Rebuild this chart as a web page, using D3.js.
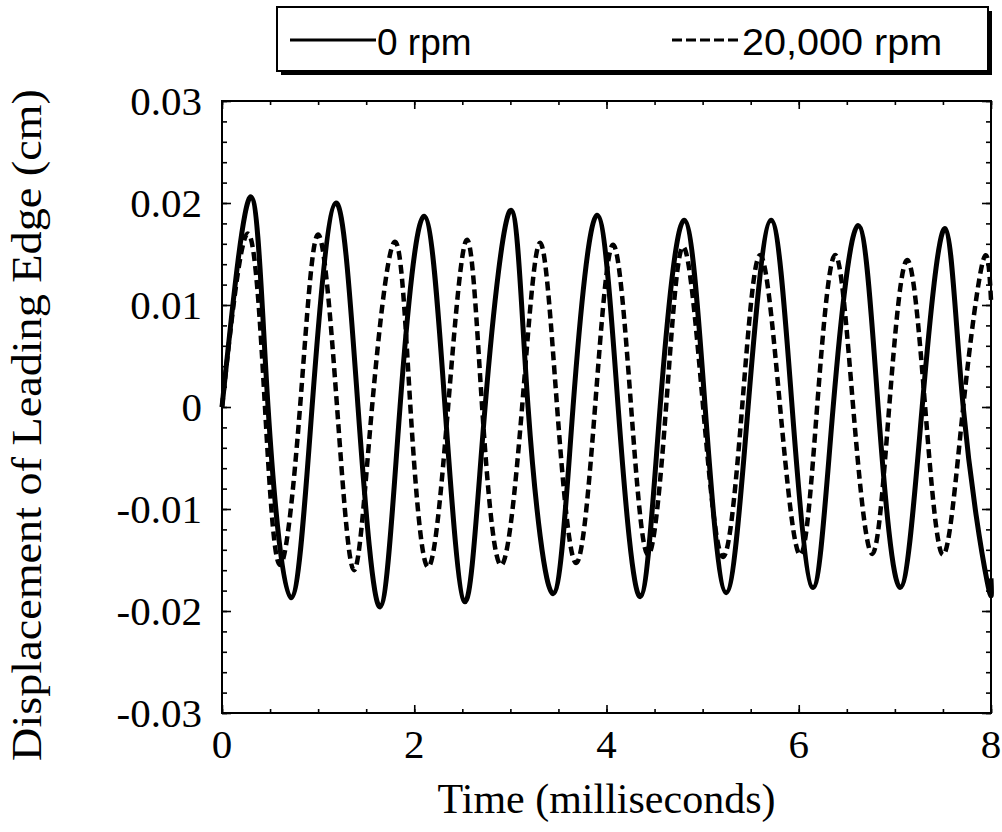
<!DOCTYPE html>
<html><head><meta charset="utf-8">
<script src="https://d3js.org/d3.v7.min.js"></script>
<style>html,body{margin:0;padding:0;background:#fff;}svg{display:block;}</style>
</head><body>
<script>
// ---- data ----
const seriesNames = ["0 rpm", "20,000 rpm"];
// 0 rpm (solid)
const solidTime = [0,0.302,0.479,0.718,0.937,1.186,1.415,1.644,1.852,2.102,2.320,2.529,2.737,3.007,3.184,3.444,3.652,3.902,4.121,4.350,4.558,4.808,5.026,5.245,5.473,5.713,5.931,6.150,6.358,6.618,6.826,7.055,7.284,7.523,7.711,7.960,8.0];
const solidDisp = [0,0.0206,0,-0.0187,0,0.0200,0,-0.0196,0,0.0187,0,-0.0191,0,0.0193,0,-0.0183,0,0.0188,0,-0.0186,0,0.0183,0,-0.0182,0,0.0183,0,-0.0177,0,0.0178,0,-0.0177,0,0.0175,0,-0.0171,-0.0168];
// 20,000 rpm (dashed)
const dashedTime = [0,0.271,0.447,0.604,0.812,0.999,1.197,1.374,1.561,1.800,1.960,2.144,2.352,2.549,2.706,2.903,3.122,3.309,3.486,3.684,3.881,4.069,4.256,4.433,4.620,4.797,5.005,5.213,5.411,5.598,5.806,6.015,6.191,6.379,6.566,6.764,6.941,7.128,7.315,7.503,7.711,7.919,8.0];
const dashedDisp = [0,0.0170,0,-0.0155,0,0.0169,0,-0.0160,0,0.0162,0,-0.0157,0,0.0164,0,-0.0155,0,0.0161,0,-0.0153,0,0.0159,0,-0.0145,0,0.0157,0,-0.0147,0,0.0149,0,-0.0145,0,0.0149,0,-0.0144,0,0.0144,0,-0.0145,0,0.0144,0.0105];
const xMajorTicks = [0,2,4,6,8];
const xTickLabels = ["0","2","4","6","8"];
const yMajorTicks = [-0.03,-0.02,-0.01,0,0.01,0.02,0.03];
const yTickLabels = ["-0.03","-0.02","-0.01","0","0.01","0.02","0.03"];
const xTitle = "Time (milliseconds)";
const yTitle = "Displacement of Leading Edge (cm)";

// ---- layout ----
const W = 1002, H = 832;
const L = 222, R = 991, T = 101, B = 713;
const svg = d3.select("body").append("svg").attr("width", W).attr("height", H);
const x = d3.scaleLinear().domain([0, 8]).range([L, R]);
const y = d3.scaleLinear().domain([-0.03, 0.03]).range([B, T]);
const serif = "'Liberation Serif','Times New Roman',serif";
const sans = "'Liberation Sans',Arial,sans-serif";

// ticks (inward on all four sides)
const xMinor = d3.range(0, 8.001, 0.5);
const yMinor = d3.range(-0.03, 0.0301, 0.002);
function axisG(gen, tx, ty) {
  const g = svg.append("g").attr("transform", `translate(${tx},${ty})`).call(gen);
  g.selectAll("text").remove();
  g.select(".domain").remove();
  g.selectAll("line").attr("stroke", "#000").attr("stroke-width", 1.6);
  return g;
}
axisG(d3.axisBottom(x).tickValues(xMinor).tickSize(-4), 0, B);
axisG(d3.axisBottom(x).tickValues(xMajorTicks).tickSize(-8), 0, B);
axisG(d3.axisTop(x).tickValues(xMinor).tickSize(-4), 0, T);
axisG(d3.axisTop(x).tickValues(xMajorTicks).tickSize(-8), 0, T);
axisG(d3.axisLeft(y).tickValues(yMinor).tickSize(-5), L, 0);
axisG(d3.axisLeft(y).tickValues(yMajorTicks).tickSize(-9), L, 0);
axisG(d3.axisRight(y).tickValues(yMinor).tickSize(-5), R, 0);
axisG(d3.axisRight(y).tickValues(yMajorTicks).tickSize(-9), R, 0);

// frame
svg.append("rect").attr("x", L).attr("y", T).attr("width", R - L).attr("height", B - T)
  .attr("fill", "none").attr("stroke", "#000").attr("stroke-width", 2);

// text helper
function label(px, py, txt, opts) {
  return svg.append("text").text(txt)
    .attr("transform", `translate(${px},${py})` + (opts.extra || ""))
    .attr("text-anchor", opts.anchor || "middle")
    .attr("font-family", opts.family || serif)
    .attr("font-size", opts.size).attr("fill", "#000");
}
xMajorTicks.forEach((v, i) => label(x(v), 758, xTickLabels[i], {size: 41}));
yMajorTicks.forEach((v, i) => label(202, y(v) + 14, yTickLabels[i], {size: 41, anchor: "end"}));

// axis titles
label((L + R) / 2, 813, xTitle, {size: 42});
label(41, 425, yTitle, {size: 42, extra: " rotate(-90) scale(1.1,1)"});

// series
const solidData = solidTime.map((t, i) => [t, solidDisp[i]]);
const dashedData = dashedTime.map((t, i) => [t, dashedDisp[i]]);
const line = d3.line().x(d => x(d[0])).y(d => y(d[1])).curve(d3.curveNatural);
svg.append("path").datum(dashedData).attr("d", line).attr("fill", "none")
  .attr("stroke", "#000").attr("stroke-width", 4.5).attr("stroke-dasharray", "9,5");
svg.append("path").datum(solidData).attr("d", line).attr("fill", "none")
  .attr("stroke", "#000").attr("stroke-width", 5).attr("stroke-linejoin", "round");

// legend
const lg = svg.append("g");
lg.append("rect").attr("x", 281).attr("y", 11).attr("width", 711).attr("height", 64).attr("fill", "#000");
lg.append("rect").attr("x", 277).attr("y", 7).attr("width", 711).attr("height", 64)
  .attr("fill", "#fff").attr("stroke", "#000").attr("stroke-width", 2);
lg.append("line").attr("x1", 290).attr("x2", 376).attr("y1", 40).attr("y2", 40)
  .attr("stroke", "#000").attr("stroke-width", 3);
lg.append("line").attr("x1", 672).attr("x2", 741).attr("y1", 40).attr("y2", 40)
  .attr("stroke", "#000").attr("stroke-width", 3).attr("stroke-dasharray", "10,4");
label(377, 55, seriesNames[0], {size: 37, anchor: "start", family: sans});
label(742, 55, seriesNames[1], {size: 37, anchor: "start", family: sans, extra: " scale(1.07,1)"});
</script>
</body></html>
